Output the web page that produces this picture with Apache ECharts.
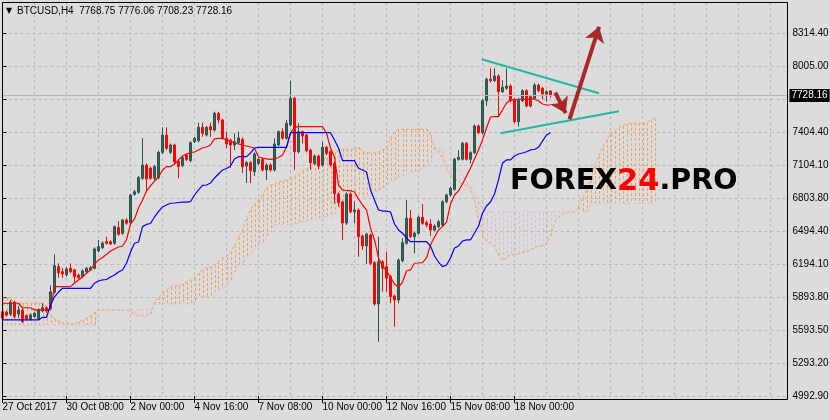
<!DOCTYPE html>
<html><head><meta charset="utf-8">
<script src="https://cdn.jsdelivr.net/npm/echarts@6/dist/echarts.min.js"></script>
<style>html,body{margin:0;padding:0;background:#dcdcdc}#c{width:830px;height:420px}</style>
</head><body><div id="c"></div>
<script>
const symbolName = 'BTCUSD,H4';
const lastBar = [7768.75, 7776.06, 7708.23, 7728.16]; // open high low close
const xTickLabels = ['27 Oct 2017','30 Oct 08:00','2 Nov 00:00','4 Nov 16:00','7 Nov 08:00','10 Nov 00:00','12 Nov 16:00','15 Nov 08:00','18 Nov 00:00'];
const yTickLabels = ['4992.90','5293.20','5593.50','5893.80','6194.10','6494.40','6803.80','7104.10','7404.40','','8005.00','8314.40'];
const yMin = 4992.9, yStep = 300.3, yMax = 8578.3;
const slotCount = 197;

// [open, close, low, high]
const candles = [
[5760,5700,5685,5785],[5757,5730,5715,5770],[5739,5846,5721,5866],[5846,5715,5700,5860],[5739,5775,5703,5812],
[5775,5669,5655,5790],[5724,5694,5680,5735],[5694,5730,5680,5745],[5715,5745,5705,5760],[5694,5775,5685,5790],
[5766,5796,5755,5836],[5796,5766,5750,5810],[5791,5942,5780,6000],[5937,6179,5925,6282],[6170,6115,6070,6200],
[6124,6103,6067,6157],[6094,6149,6080,6165],[6155,6124,6110,6200],[6140,6079,6033,6150],[6094,6069,6055,6105],
[6079,6131,6065,6145],[6124,6155,6110,6165],[6140,6160,6130,6175],[6155,6331,6145,6345],[6313,6352,6300,6412],
[6343,6383,6330,6400],[6397,6383,6370,6442],[6397,6376,6365,6410],[6383,6534,6370,6545],[6525,6464,6450,6585],
[6473,6595,6460,6605],[6595,6565,6550,6610],[6570,6822,6555,6835],[6828,6852,6815,6870],[6847,6980,6835,6995],
[6974,7095,6960,7338],[7095,6967,6847,7110],[7065,6974,6960,7080],[6974,7080,6960,7095],[6980,7210,6965,7225],
[7210,7368,7195,7438],[7368,7247,7230,7438],[7210,7277,7195,7290],[7277,7125,7100,7290],[7131,7080,6974,7145],
[7089,7161,7075,7175],[7186,7145,7130,7200],[7134,7298,7120,7310],[7307,7338,7295,7350],[7316,7438,7300,7480],
[7438,7383,7352,7480],[7368,7438,7355,7450],[7444,7413,7352,7480],[7413,7565,7400,7580],[7565,7505,7474,7580],
[7505,7338,7325,7515],[7338,7286,7247,7398],[7322,7277,7068,7335],[7277,7307,7231,7383],[7298,7341,7285,7398],
[7329,7080,7022,7345],[7086,7116,6931,7130],[7116,7043,6931,7130],[7034,7195,6995,7210],[7110,7147,7095,7160],
[7147,7050,7035,7160],[7050,7095,6958,7110],[7095,7050,7035,7110],[7050,7286,7035,7338],[7277,7398,7265,7410],
[7398,7338,7325,7429],[7338,7474,7325,7505],[7459,7702,7445,7862],[7702,7216,7050,7715],[7216,7398,7200,7474],
[7398,7359,7292,7410],[7368,7225,7210,7380],[7231,7116,7050,7245],[7110,7177,7095,7190],[7177,7086,7056,7190],
[7095,7256,7080,7307],[7256,7201,7185,7270],[7216,7095,7080,7230],[7110,6837,6746,7125],[6831,6752,6716,6845],
[6758,6567,6412,6770],[6567,6831,6550,6845],[6831,6670,6655,6845],[6670,6685,6564,6761],[6685,6443,6260,6700],
[6449,6358,6322,6460],[6358,6467,6194,6480],[6458,6200,6185,6470],[6206,5830,5815,6220],[5830,6215,5487,6442],
[6215,6155,5942,6230],[6170,6064,5942,6306],[6079,5897,5836,6095],[5903,5866,5623,5915],[5866,6230,5836,6245],
[6224,6388,6210,6428],[6383,6610,6370,6776],[6610,6443,6430,6685],[6443,6474,6291,6490],[6474,6619,6460,6635],
[6619,6564,6550,6740],[6570,6549,6530,6590],[6558,6503,6449,6601],[6503,6540,6490,6555],[6534,6579,6520,6595],
[6549,6761,6535,6775],[6761,6822,6745,6835],[6822,6883,6808,6900],[6874,7147,6860,7160],[7147,7165,7135,7231],
[7147,7292,7135,7305],[7292,7147,7135,7305],[7147,7207,7110,7220],[7207,7450,7195,7465],[7450,7389,7375,7465],
[7389,7680,7375,7695],[7680,7875,7632,7890],[7875,7862,7845,7975],[7862,7905,7850,7975],[7905,7762,7535,7920],
[7762,7802,7750,7868],[7793,7814,7780,7975],[7814,7680,7665,7830],[7693,7489,7475,7705],[7489,7693,7444,7705],
[7680,7771,7665,7785],[7771,7632,7620,7785],[7717,7632,7620,7730],[7702,7823,7690,7840],[7823,7771,7760,7835],
[7793,7741,7693,7805],[7741,7762,7671,7775],[7768.75,7728.16,7708.23,7776.06]
];

const tenkan = [
5837,5837,5837,5837,5837,5796,5796,5796,5776,5776,5776,5776,5776,5988,5988,5988,5988,5988,
6021,6049,6076,6110,6140,6194,6231,6253,6281,6312,6331,6349,6358,6413,6558,6604,6704,6777,6858,6904,6949,6986,
7050,7080,7080,7104,7141,7177,7195,7207,7213,7232,7250,7259,7277,7332,7338,7338,7323,7313,7295,7286,7277,7268,
7259,7247,7168,7159,7150,7147,7150,7163,7186,7259,7386,7438,
7444,7444,7444,7444,7444,7444,7444,
7386,7250,7168,6913,6868,6863,6861,6849,6786,6731,6686,6522,6413,6249,6176,6130,6076,6012,5982,6030,6130,6140,
6201,6203,6206,6249,6367,6440,6504,6534,6576,6740,6822,6858,6922,6995,7068,7150,7232,7323,7432,7532,7535,7535,
7596,7659,7687,7687,7691,7693,7693,7696,7696,7677,7650,7641,7641
];

const kijun = [
5685,5685,5685,5685,5685,5685,5685,5685,5685,5685,5709,5709,5821,5894,5939,
5973,5973,5973,5973,5973,5973,5973,5973,
6019,6039,6049,6053,6076,6094,6121,6140,6201,6303,6383,6394,6534,6554,6563,6622,6670,6713,6731,6747,6749,6754,
6758,6758,6761,6822,6868,6909,6913,6931,6977,7013,7050,7063,7086,7150,7171,7171,7171,7204,7250,
7256,7256,7256,7256,7256,7256,7256,7256,
7389,7389,7389,7389,7389,7389,7389,7389,7389,7389,7389,
7323,7250,7134,7134,7134,7134,
7065,7050,7031,6868,6777,6686,6676,6676,6667,6558,6504,6474,6431,
6397,6397,6397,6397,6397,
6358,6267,6212,6170,6185,6249,6340,6358,6403,6413,6413,6476,6540,6656,6722,6758,6831,6959,7113,7141,7141,7177,
7195,7204,7216,7232,7236,7256,7313,7368,7389
];

const spanA = [
5885,5885,5885,5839,5839,5839,5839,5839,5839,5839,5839,
5794,5730,5694,5675,5657,5657,5648,5648,5666,5685,5703,5721,5757,
5776,5776,5776,5776,5776,5776,5776,5776,
5757,5739,5721,5721,5721,5739,5848,5894,5930,5958,5985,5994,5998,6008,6030,6049,6067,6112,6140,6158,6167,6185,
6221,6249,6261,6303,6367,6440,6504,6613,6686,6740,6777,6831,6886,6913,6922,6940,6949,6959,6977,6989,7013,7040,
7059,7080,7113,7131,7147,7159,7177,7213,7227,
7238,7238,7238,7238,
7256,7216,7209,7202,7204,7213,7232,7250,7341,7398,
7420,7420,7420,7420,7420,7420,7420,7420,
7368,7259,7213,7159,7068,6995,6986,6940,6922,6904,6877,6777,6595,6458,6403,6376,6349,6276,6231,6249,6285,6276,
6285,6299,6303,6322,6340,6358,6358,6385,6449,6576,6613,6649,6658,6667,6670,6713,6795,6868,6959,7086,7177,7250,
7323,7377,7404,7432,7450,7468,
7473,7473,7473,7473,
7477,7505,7520
];

const spanB = [
5639,5639,5639,5639,5639,5639,5639,5639,5639,5639,5639,5639,5639,5639,5639,5639,5639,5639,5639,5639,5639,5639,5639,5639,
5776,5776,5776,5776,5776,5776,5776,5776,5776,5776,5776,5776,5776,5776,
5830,5830,5830,5830,5830,5830,5830,5830,5830,5830,
5857,5885,5897,5897,5897,
5939,5958,5976,5994,6049,6121,6176,6203,6249,6303,6331,6362,6376,6431,6485,6549,
6554,6554,6554,6554,6554,
6567,6576,6585,6595,6608,6617,6625,6625,6625,
6649,6704,6740,6758,6777,6804,6807,6807,6807,
6822,6840,6868,6886,6913,6936,6959,6977,6995,7009,7022,7034,7050,7068,7095,7131,7213,7259,7232,7113,7068,7059,
7050,7013,6940,6904,6858,6777,6686,
6670,6670,6670,6670,6670,6670,6670,6670,6670,6670,6670,6670,6670,6670,6670,6670,6670,6670,6670,6670,6670,6670,6670,6670,6670,6670,
6731,
6747,6747,6747,6747,6747,6747,6747,6747,6747,6747,6747,6747,6747,6747,6747,6747
];

// analyst drawings: [bar position, price]
const upperTrend = [[119.8, 8057], [149.1, 7748]];
const lowerTrend = [[124.5, 7384], [154.1, 7584]];
const arrowDown = [[138.2, 7753], [140.8, 7567]];
const arrowUp = [[141.75, 7511], [149.15, 8353]];

const categories = [];
for (let i = 0; i < slotCount; i++) categories.push(String(i));
const yTickValues = yTickLabels.map((_, k) => +(yMin + k * yStep).toFixed(2));

const chart = echarts.init(document.getElementById('c'), null, {renderer: 'canvas'});
const gridLine = {color: '#bababa', type: [3, 3], width: 1};
chart.setOption({
  animation: false,
  backgroundColor: '#dcdcdc',
  textStyle: {fontFamily: 'Liberation Sans'},
  grid: {left: 2.5, right: 43.5, top: 2, bottom: 24, outerBoundsMode: 'none', containLabel: false},
  xAxis: [{
    type: 'category', data: categories, boundaryGap: false,
    axisLine: {show: false},
    axisTick: {show: true, length: 7, lineStyle: {color: '#000'},
      interval: (i) => i % 16 === 0 && i / 16 < xTickLabels.length},
    axisLabel: {interval: 15, align: 'left', margin: 6, fontSize: 10, color: '#000',
      formatter: (v, i) => (i % 16 === 0 && xTickLabels[i / 16]) ? xTickLabels[i / 16] : ''},
    splitLine: {show: true, interval: 7, lineStyle: gridLine}
  }, {
    type: 'value', min: 0, max: slotCount - 1, show: false
  }],
  yAxis: [{
    type: 'value', position: 'right', min: yMin, max: yMax, interval: yStep, scale: true,
    axisLine: {show: false},
    axisTick: {show: true, length: 4, lineStyle: {color: '#000'}, customValues: yTickValues},
    axisLabel: {margin: 6, fontSize: 10, color: '#000', customValues: yTickValues,
      formatter: (v) => {
        const k = Math.round((v - yMin) / yStep);
        if (Math.abs(yMin + k * yStep - v) > 1) return '';
        return yTickLabels[k] || '';
      }},
    splitLine: {show: true, lineStyle: gridLine}
  }],
  series: [
    {
      type: 'custom', name: 'cloud', xAxisIndex: 0, yAxisIndex: 0, silent: true, clip: true, z: 1,
      data: spanA.map((a, i) => [i, a, spanB[i]]),
      encode: {x: 0, y: [1, 2]},
      renderItem: (params, api) => {
        const i = api.value(0), a = api.value(1), b = api.value(2);
        const p1 = api.coord([i, a]), p2 = api.coord([i, b]);
        const x = Math.round(p1[0]) + 0.5;
        return {type: 'line', shape: {x1: x, y1: Math.round(p1[1]), x2: x, y2: Math.round(p2[1])},
          style: {stroke: a >= b ? '#f4a460' : '#d8bfd8', lineWidth: 1, lineDash: [3, 2]}};
      }
    },
    {type: 'line', name: 'Senkou A', data: spanA, showSymbol: false, silent: true, z: 2,
      lineStyle: {color: '#f4a460', width: 1, type: [3, 2]}},
    {type: 'line', name: 'Senkou B', data: spanB, showSymbol: false, silent: true, z: 2,
      lineStyle: {color: '#d8bfd8', width: 1, type: [3, 2]}},
    {
      type: 'candlestick', name: symbolName, data: candles, barWidth: 3, z: 3, silent: true,
      itemStyle: {color: '#2e6b58', color0: '#ff0000', borderColor: '#2f4f4f', borderColor0: '#ff0000', borderWidth: 1},
      markLine: {
        silent: true, symbol: ['none', 'none'], animation: false,
        lineStyle: {color: '#b8b8b8', type: 'solid', width: 1},
        label: {show: true, position: 'end', distance: 3, formatter: () => lastBar[3].toFixed(2),
          backgroundColor: '#000', color: '#fff', fontSize: 10, padding: [2, 2, 1, 2], fontFamily: 'Liberation Sans'},
        data: [{yAxis: lastBar[3]}]
      }
    },
    {type: 'line', name: 'Tenkan', data: tenkan, showSymbol: false, silent: true, z: 4,
      lineStyle: {color: '#ff0000', width: 1.2}},
    {type: 'line', name: 'Kijun', data: kijun, showSymbol: false, silent: true, z: 4,
      lineStyle: {color: '#0000ff', width: 1.2}},
    {type: 'lines', coordinateSystem: 'cartesian2d', xAxisIndex: 1, yAxisIndex: 0, silent: true, z: 6,
      symbol: ['none', 'none'],
      lineStyle: {color: '#25b6a2', width: 2, opacity: 1},
      data: [{coords: upperTrend}, {coords: lowerTrend}]},
    {type: 'lines', coordinateSystem: 'cartesian2d', xAxisIndex: 1, yAxisIndex: 0, silent: true, z: 7,
      symbol: ['none', 'arrow'], symbolSize: 15,
      lineStyle: {color: '#a8282a', width: 4, opacity: 1},
      data: [{coords: arrowDown}, {coords: arrowUp}]}
  ],
  graphic: [
    {type: 'rect', z: 100, silent: true, shape: {x: 2.5, y: 2.5, width: 785, height: 397},
      style: {fill: 'none', stroke: '#000', lineWidth: 1}},
    {type: 'text', z: 100, silent: true, x: 6, y: 11,
      style: {text: '▼', fill: '#000', font: '8px "DejaVu Sans"', verticalAlign: 'middle'}},
    {type: 'text', z: 100, silent: true, x: 17, y: 11,
      style: {text: symbolName + '  ' + [lastBar[0], lastBar[1], lastBar[2], lastBar[3]].map(v => v.toFixed(2)).join(' '),
        fill: '#000', font: '10px "Liberation Sans"', verticalAlign: 'middle'}},
    {type: 'text', z: 90, silent: true, x: 510, y: 182,
      style: {
        text: '{a|FOREX}{b|24}{a|.PRO}', verticalAlign: 'middle',
        rich: {
          a: {fill: '#000', fontSize: 28.5, fontWeight: 'bold', fontFamily: 'DejaVu Sans'},
          b: {fill: '#ff0000', fontSize: 30.5, fontWeight: 'bold', fontFamily: 'DejaVu Sans'}
        }
      }}
  ]
});
</script>
</body></html>
